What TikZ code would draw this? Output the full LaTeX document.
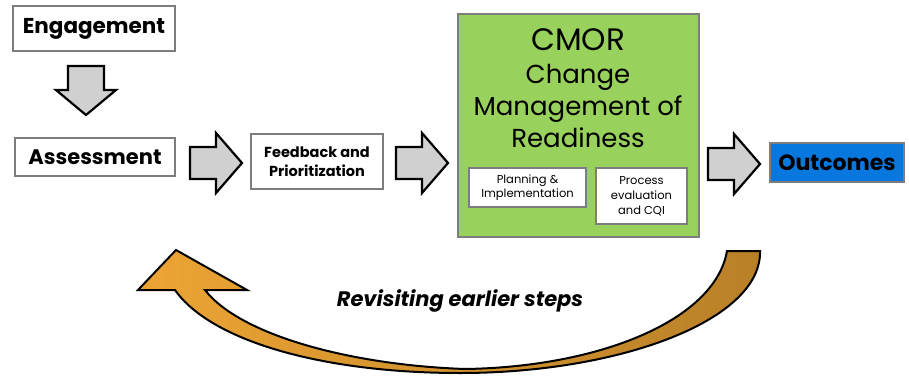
\documentclass[tikz,border=0pt]{standalone}
\usepackage{fontspec}
\setmainfont{Poppins}
\definecolor{boxgray}{RGB}{125,125,125}
\definecolor{arrowgray}{RGB}{208,208,208}
\definecolor{cmorgreen}{RGB}{152,210,92}
\definecolor{outblue}{RGB}{8,120,222}
\definecolor{orangeL}{RGB}{236,164,52}
\definecolor{orangeR}{RGB}{184,128,40}
\begin{document}
\begin{tikzpicture}[x=1pt,y=-1pt,
  box/.style={draw=boxgray, line width=2.5pt, fill=white, inner sep=0pt, align=center},
  bigtxt/.style={font=\fontsize{21}{25}\selectfont\bfseries},
  blockarrow/.style={draw=black, line width=2.2pt, fill=arrowgray, line join=miter},
  rblock/.pic={\path[blockarrow] (0,-16) -- (26,-16) -- (26,-30) -- (52,0) -- (26,30) -- (26,16) -- (0,16) -- cycle;},
  dblock/.pic={\path[blockarrow] (-18,0) -- (18,0) -- (18,24) -- (30,24) -- (0,49) -- (-30,24) -- (-18,24) -- cycle;},
  cmortxt/.style={anchor=base, font=\fontsize{26}{32}\selectfont}
]
\useasboundingbox (0,0) rectangle (909,377);

% boxes
\node[box, font=\fontsize{21.5}{25}\selectfont\bfseries, minimum width=162pt, minimum height=45pt] (eng) at (94,28.5) {Engagement};
\node[box, bigtxt, minimum width=160pt, minimum height=38pt] (ass) at (95,157) {Assessment};
\node[box, font=\fontsize{14.5}{19}\selectfont\bfseries, minimum width=132pt, minimum height=55pt] (fb) at (317,161.5) {Feedback and\\Prioritization};
\node[box, fill=cmorgreen, minimum width=241pt, minimum height=223pt] (cmor) at (578.5,125.5) {};
\node[box, line width=2pt, font=\fontsize{11.5}{14}\selectfont, minimum width=117pt, minimum height=39pt] (plan) at (527.5,187.5) {Planning \&\\Implementation};
\node[box, line width=2pt, font=\fontsize{11.5}{15}\selectfont, minimum width=91pt, minimum height=56pt] (proc) at (641.5,196) {Process\\evaluation\\and CQI};
\node[box, font=\fontsize{22}{26}\selectfont\bfseries, fill=outblue, minimum width=134pt, minimum height=39pt] (out) at (837,162.5) {Outcomes};

% CMOR title
\node[cmortxt, font=\fontsize{31}{36}\selectfont] (t1) at (578,51) {CMOR};
\node[cmortxt] (t2) at (578,84) {Change};
\node[cmortxt] (t3) at (578,115) {Management of};
\node[cmortxt] (t4) at (578,147) {Readiness};

% block arrows
\pic at (86,66) {dblock};
\pic at (190,163) {rblock};
\pic at (396,163) {rblock};
\pic at (708,164) {rblock};

% curved return arrow
\path[draw=black, line width=2pt, line join=miter, left color=orangeL, right color=orangeR]
  (176,250) -- (247,290) -- (205,290)
  .. controls (240,335) and (350,365) .. (465,369)
  .. controls (600,367) and (715,320) .. (727,251)
  -- (760,251)
  .. controls (762,320) and (620,373) .. (460,373)
  .. controls (320,373) and (210,340) .. (175,290)
  -- (138,290) -- cycle;

\node[font=\fontsize{21}{25}\selectfont\bfseries\itshape, anchor=base] (rev) at (460,306) {Revisiting earlier steps};
\end{tikzpicture}
\end{document}
